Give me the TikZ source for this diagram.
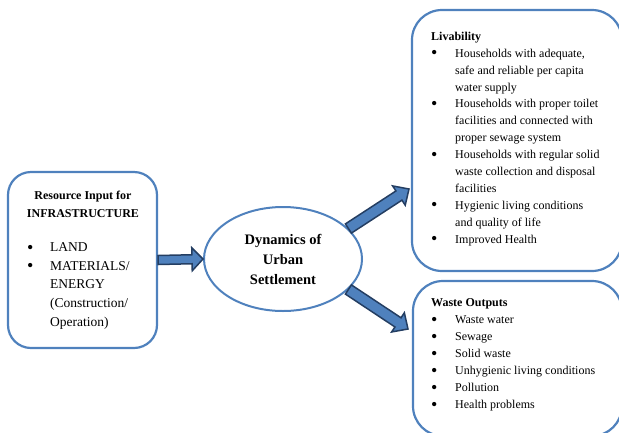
\documentclass[tikz,border=0pt]{standalone}
\usepackage{fontspec}
\setmainfont{Liberation Serif}
\usetikzlibrary{calc,shapes.geometric}
\definecolor{boxblue}{RGB}{79,129,189}
\definecolor{arrowdark}{RGB}{36,62,98}
\tikzset{
  roundbox/.style={draw=boxblue,line width=2.2pt,rectangle,inner sep=0pt},
  listtext/.style={inner sep=0pt,anchor=north west,align=left},
  fatarrow/.style={fill=boxblue,draw=arrowdark,line width=1.5pt,line join=miter}
}
% bullet item and continuation line
\newcommand{\itm}[1][24pt]{\makebox[#1][l]{\raisebox{-1.6pt}{\fontsize{18}{0}\selectfont\textbullet}}}
\newcommand{\cnt}[1][24pt]{\hspace*{#1}}
% block arrow: start, end, shaft half width, head half width, head length
\newcommand{\fatarr}[5]{%
  \path (#1) coordinate (fa-s) (#2) coordinate (fa-e);
  \path ($(fa-e)!#5!(fa-s)$) coordinate (fa-h);
  \filldraw[fatarrow] ($(fa-s)!#3!90:(fa-e)$) -- ($(fa-h)!#3!-90:(fa-s)$)
    -- ($(fa-h)!#4!-90:(fa-s)$) -- (fa-e) -- ($(fa-h)!#4!90:(fa-s)$)
    -- ($(fa-h)!#3!90:(fa-s)$) -- ($(fa-s)!#3!-90:(fa-e)$) -- cycle;}
\begin{document}
\begin{tikzpicture}[x=1pt,y=-1pt]
  \useasboundingbox (0,0) rectangle (619,432);
  % boxes
  \node[roundbox,rounded corners=23pt,minimum width=149pt,minimum height=176pt] (inbox) at (82.5,260) {};
  \node[roundbox,rounded corners=30pt,minimum width=210pt,minimum height=261pt] (livbox) at (517,140.5) {};
  \node[roundbox,rounded corners=30pt,minimum width=209pt,minimum height=155pt] (wastebox) at (517.5,358.5) {};
  \node[draw=boxblue,line width=2pt,ellipse,minimum width=158pt,minimum height=104pt,inner sep=0pt,
    align=center,font=\fontsize{14.5}{20}\selectfont\bfseries] (dyn) at (283,259)
    {Dynamics of\\Urban\\Settlement};
  % texts
  \node[inner sep=0pt,anchor=north,align=center,font=\fontsize{12}{18}\selectfont\bfseries] (intitle)
    at (83,190.8) {Resource Input for\\INFRASTRUCTURE};
  \node[listtext,font=\fontsize{13.5}{18.7}\selectfont] (inlist) at (27,242.3)
    {\itm[23pt]LAND\\ \itm[23pt]MATERIALS/\\ \cnt[23pt]ENERGY\\ \cnt[23pt](Construction/\\ \cnt[23pt]Operation)};
  \node[listtext,font=\fontsize{12}{16.9}\selectfont] (livtext) at (431,31.8)
    {\textbf{Livability}\\
     \itm Households with adequate,\\ \cnt safe and reliable per capita\\ \cnt water supply\\
     \itm Households with proper toilet\\ \cnt facilities and connected with\\ \cnt proper sewage system\\
     \itm Households with regular solid\\ \cnt waste collection and disposal\\ \cnt facilities\\
     \itm Hygienic living conditions\\ \cnt and quality of life\\
     \itm Improved Health};
  \node[listtext,font=\fontsize{12}{17}\selectfont] (wastetext) at (431,298.8)
    {\textbf{Waste Outputs}\\
     \itm Waste water\\ \itm Sewage\\ \itm Solid waste\\ \itm Unhygienic living conditions\\
     \itm Pollution\\ \itm Health problems};
  % arrows
  \coordinate (livtip) at (409,189);
  \coordinate (wastetip) at (408,329);
  \fatarr{inbox.east}{dyn.west}{4.5pt}{11.5pt}{11pt}
  \fatarr{dyn.25}{livtip}{5.5pt}{11.5pt}{12pt}
  \fatarr{dyn.-25}{wastetip}{5.5pt}{11.5pt}{12pt}
\end{tikzpicture}
\end{document}
